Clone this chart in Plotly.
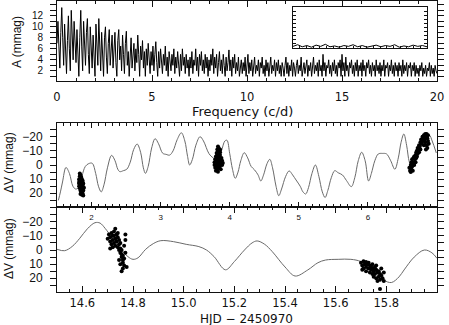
import numpy as np
import plotly.graph_objects as go

# ---------------- data ----------------
# amplitude spectrum, A (mmag), sampled evenly from 0 to 20 c/d
amp = [
    7.0, 11.0, 6.5, 2.5, 9.0, 13.5, 8.0, 3.0, 10.5, 5.5, 1.5, 7.5, 12.0, 6.0, 2.0, 13.0, 9.5, 4.0, 11.0, 7.0,
    3.5, 9.5, 5.0, 1.0, 8.0, 13.0, 6.5, 2.0, 11.0, 7.5, 3.0, 9.0, 11.5, 5.0, 1.5, 10.0, 6.0, 2.5, 8.5, 4.0,
    1.0, 10.5, 6.0, 3.0, 11.5, 7.0, 2.0, 9.0, 5.0, 1.0, 8.0, 10.0, 4.5, 1.5, 7.0, 9.5, 3.0, 6.0, 8.5, 2.5,
    5.5, 9.0, 3.5, 1.0, 7.5, 9.5, 4.0, 6.5, 2.0, 8.5, 5.0, 1.5, 7.0, 9.2, 3.0, 5.5, 1.0, 6.5, 8.0, 2.5,
    4.5, 7.0, 2.0, 6.0, 3.5, 8.5, 5.0, 1.0, 6.5, 4.0, 7.5, 2.5, 5.5, 1.0, 6.0, 3.0, 7.0, 4.5, 1.5, 5.5,
    3.0, 6.5, 2.0, 5.0, 7.3, 3.5, 1.0, 5.5, 2.5, 6.0, 4.0, 1.5, 5.0, 3.0, 6.5, 2.0, 4.5, 1.0, 5.5, 3.5,
    2.0, 5.0, 3.0, 6.0, 1.5, 4.5, 2.5, 5.5, 3.5, 1.0, 5.0, 2.0, 6.0, 3.0, 4.5, 1.5, 5.0, 2.5, 4.0, 1.0,
    4.5, 2.5, 5.5, 1.5, 4.0, 3.0, 6.0, 2.0, 4.5, 1.0, 5.0, 3.0, 5.5, 2.0, 4.0, 1.5, 5.0, 2.5, 4.5, 1.0,
    4.0, 2.0, 5.0, 3.0, 6.0, 1.5, 4.5, 2.5, 5.0, 1.0, 3.5, 5.5, 2.0, 4.0, 1.5, 5.0, 3.0, 1.0, 4.5, 2.0,
    3.5, 5.8, 2.0, 4.0, 1.0, 4.5, 2.5, 5.0, 1.5, 3.5, 2.0, 4.5, 1.0, 3.0, 4.0, 1.5, 3.5, 2.0, 4.5, 1.0,
    3.0, 5.0, 1.5, 3.5, 2.0, 4.0, 1.0, 3.0, 4.5, 1.5, 3.0, 2.0, 4.0, 1.0, 3.5, 2.5, 4.5, 1.5, 3.0, 1.0,
    4.0, 2.0, 3.5, 1.0, 3.0, 4.5, 1.5, 3.0, 2.0, 4.0, 1.0, 3.5, 2.0, 4.0, 1.5, 3.0, 1.0, 3.5, 2.5, 1.0,
    3.0, 4.5, 1.5, 3.5, 1.0, 3.0, 2.0, 4.0, 1.0, 3.5, 2.5, 1.0, 3.0, 4.0, 1.5, 3.0, 2.0, 4.5, 1.0, 2.5,
    3.5, 1.5, 3.0, 4.0, 1.0, 3.0, 2.0, 3.5, 1.0, 3.0, 4.5, 1.5, 3.0, 2.0, 3.5, 1.0, 4.0, 2.0, 3.0, 1.0,
    5.0, 2.0, 3.5, 1.0, 3.0, 2.5, 4.0, 1.5, 3.0, 1.0, 3.5, 2.0, 4.0, 1.5, 3.0, 1.0, 3.5, 2.5, 4.0, 1.0,
    5.0, 2.0, 3.5, 1.0, 4.5, 2.0, 3.0, 1.0, 3.5, 2.5, 4.0, 1.5, 3.0, 1.0, 3.5, 2.0, 4.0, 1.0, 3.0, 2.0,
    3.5, 1.0, 4.0, 2.0, 3.0, 1.0, 3.5, 2.5, 4.0, 1.5, 3.0, 1.0, 3.5, 2.0, 3.0, 1.0, 4.0, 2.0, 3.0, 1.5,
    3.5, 1.0, 3.0, 2.0, 4.0, 1.0, 3.0, 2.5, 3.5, 1.0, 3.0, 2.0, 4.0, 1.5, 3.0, 1.0, 3.5, 2.0, 3.0, 1.0,
    3.5, 2.0, 3.0, 1.0, 4.0, 1.5, 3.0, 2.0, 3.5, 1.0, 3.0, 2.5, 3.5, 1.0, 3.0, 2.0, 3.5, 1.0, 3.0, 1.5,
    2.5, 1.0, 3.0, 2.0, 3.5, 1.0, 2.5, 1.5, 3.0, 1.0, 2.5, 2.0, 3.5, 1.0, 3.0, 1.5, 2.5, 1.0, 3.0, 2.0, 1.5,
]
freq = np.linspace(0.0, 20.0, len(amp))

# inset (spectral window) trace – near zero everywhere
inset_vals = [0.4, 0.8, 0.3, 0.6, 0.2, 0.7, 0.4, 0.9, 0.3, 0.5, 0.2, 0.6, 0.4, 0.8, 0.3,
              0.6, 0.2, 0.5, 0.7, 0.3, 0.6, 0.4, 0.8, 0.2, 0.5, 0.3, 0.7, 0.4, 0.6, 0.3]
inset_x = np.linspace(0.0, 1.0, len(inset_vals))

# middle panel: multi-periodic fit and observations
fit_t = [1.52, 1.55, 1.58, 1.63, 1.68, 1.73, 1.77, 1.81, 1.86, 1.91, 1.96, 2.01, 2.06, 2.10, 2.14,
         2.18, 2.23, 2.29, 2.34, 2.38, 2.41, 2.46, 2.51, 2.56, 2.61, 2.66, 2.71, 2.75, 2.78, 2.82,
         2.87, 2.92, 2.97, 3.03, 3.08, 3.13, 3.18, 3.24, 3.30, 3.35, 3.39, 3.42, 3.46, 3.51, 3.57,
         3.62, 3.70, 3.76, 3.82, 3.88, 3.93, 3.96, 4.00, 4.04, 4.08, 4.12, 4.16, 4.21, 4.26, 4.31,
         4.36, 4.41, 4.45, 4.49, 4.54, 4.58, 4.62, 4.67, 4.71, 4.75, 4.81, 4.86, 4.91, 4.96, 5.02,
         5.06, 5.10, 5.14, 5.19, 5.24, 5.29, 5.34, 5.38, 5.42, 5.47, 5.52, 5.57, 5.63, 5.69, 5.76,
         5.81, 5.86, 5.91, 5.96, 6.01, 6.05, 6.10, 6.15, 6.21, 6.27, 6.33, 6.39, 6.44, 6.48, 6.52,
         6.56, 6.60, 6.64, 6.70, 6.77, 6.84, 6.89, 6.93, 6.99]
fit_v = [25.0, 19.0, 12.0, 1.7, 6.0, 15.0, 17.0, 16.0, 8.0, 1.0, -1.0, -1.2, 6.0, 15.0, 19.0,
         14.0, 2.0, -6.8, -3.0, 3.0, 4.7, 4.0, 3.0, -2.0, -11.0, -14.8, -9.0, 2.0, 5.9, 1.0,
         -12.0, -18.6, -15.0, -8.3, -7.5, -7.0, -10.0, -18.0, -22.8, -17.0, -6.0, 0.0, -4.0, -14.0, -20.0,
         -17.0, -8.0, -5.0, -3.0, -10.0, -17.0, -17.5, -8.0, 3.0, 9.4, 5.0, -3.0, -8.7, -5.0, 1.0,
         3.5, 7.0, 11.3, 7.0, -1.0, -4.0, 2.0, 15.0, 21.7, 17.0, 8.0, 4.2, 7.0, 10.6, 15.0,
         19.0, 20.5, 16.0, 6.0, 0.0, 8.0, 19.0, 23.0, 18.0, 9.0, 4.0, 5.5, 7.0, 11.0, 15.3,
         9.0, -3.0, -9.0, -3.0, 11.3, 6.0, -3.0, -7.8, -8.2, -7.8, -3.0, 3.0, -5.0, -16.0, -21.9,
         -14.0, -2.0, 2.0, -4.0, -14.0, -19.0, -21.0, -17.0, -8.5]

obs_mid_t = [1.83, 1.84, 1.83, 1.85, 1.84, 1.82, 1.86, 1.83, 1.85, 1.87, 1.82, 1.84, 1.86, 1.88, 1.83,
             1.85, 1.87, 1.82, 1.84, 1.86, 1.88, 1.83, 1.85, 1.87, 1.84, 1.86, 1.88, 1.85, 1.87, 1.86,
             1.88, 1.84, 1.82, 1.89, 1.85, 1.87,
             3.83, 3.84, 3.82, 3.85, 3.83, 3.86, 3.84, 3.82, 3.86, 3.80, 3.83, 3.85, 3.88, 3.79, 3.81,
             3.84, 3.87, 3.89, 3.78, 3.80, 3.82, 3.85, 3.88, 3.90, 3.78, 3.81, 3.84, 3.86, 3.89, 3.79,
             3.82, 3.85, 3.87, 3.80, 3.83, 3.86, 3.81,
             6.60, 6.61, 6.62, 6.62, 6.63, 6.63, 6.64, 6.64, 6.65, 6.65, 6.66, 6.66, 6.67, 6.67, 6.68,
             6.69, 6.69, 6.70, 6.70, 6.71, 6.71, 6.72, 6.72, 6.73, 6.74, 6.74, 6.75, 6.76, 6.76, 6.77,
             6.78, 6.79, 6.79, 6.80, 6.81, 6.82, 6.83, 6.83, 6.84, 6.85, 6.85, 6.86, 6.86, 6.87, 6.87,
             6.88, 6.84, 6.81]
obs_mid_v = [6.0, 7.0, 8.0, 8.5, 9.5, 10.0, 10.0, 11.0, 11.5, 11.0, 12.0, 12.5, 12.5, 13.0, 13.5,
             14.0, 14.0, 15.0, 15.0, 15.5, 15.5, 16.5, 17.0, 17.0, 18.0, 18.5, 18.0, 19.5, 20.0, 21.0,
             21.5, 20.5, 13.0, 16.0, 9.0, 12.0,
             -13.0, -12.0, -11.0, -10.5, -9.5, -9.0, -8.0, -7.5, -7.0, -6.0, -6.0, -5.5, -5.0, -4.0, -4.5,
             -3.5, -3.5, -3.0, -2.0, -2.5, -1.5, -2.0, -1.0, -1.5, 0.0, 0.5, 0.0, 0.5, 0.0, 2.0,
             2.5, 2.0, 3.0, 4.0, 4.7, -11.0, -8.5,
             2.0, 4.0, 0.0, 5.0, -2.0, 3.0, -4.0, 1.0, -1.0, 4.0, -5.0, -2.0, -6.0, 0.0, -4.0,
             -7.0, -2.0, -9.0, -5.0, -10.0, -6.0, -12.0, -8.0, -11.0, -14.0, -9.0, -13.0, -16.0, -11.0, -18.0,
             -15.0, -20.0, -17.0, -19.0, -21.0, -18.0, -22.0, -16.0, -20.0, -22.0, -14.0, -19.0, -12.0, -17.0, -21.0,
             -15.0, -11.0, -14.0]

mid_ticks = [2, 3, 4, 5, 6]

# bottom panel: zoom on HJD 2450984.5 - 2450986.0
fit2_t = [14.50, 14.53, 14.56, 14.59, 14.62, 14.65, 14.67, 14.69, 14.72, 14.75, 14.78, 14.80, 14.82,
          14.85, 14.88, 14.91, 14.96, 15.01, 15.06, 15.09, 15.12, 15.165, 15.20, 15.24, 15.27, 15.29,
          15.32, 15.35, 15.40, 15.44, 15.49, 15.53, 15.56, 15.61, 15.66, 15.70, 15.75, 15.79, 15.82,
          15.85, 15.87, 15.91, 15.95, 15.98, 16.00]
fit2_v = [-0.5, 0.5, -2.5, -8.3, -15.0, -19.3, -19.0, -15.3, -8.0, -1.0, 4.7, 6.6, 5.5,
          -0.5, -4.5, -6.6, -5.9, -4.0, -2.4, 0.0, 4.7, 14.0, 8.2, 0.0, -5.0, -6.4,
          -4.0, 1.2, 12.0, 18.4, 14.1, 9.0, 7.1, 6.6, 6.6, 8.2, 14.0, 21.2, 23.0,
          19.0, 14.1, 5.0, 0.0, 2.0, 5.9]

obs_bot_t = [14.70, 14.705, 14.71, 14.71, 14.715, 14.715, 14.72, 14.72, 14.725, 14.725, 14.73, 14.73,
             14.73, 14.735, 14.735, 14.74, 14.74, 14.74, 14.745, 14.745, 14.745, 14.75, 14.75, 14.75,
             14.755, 14.755, 14.755, 14.76, 14.76, 14.76, 14.765, 14.765, 14.76, 14.755, 14.77, 14.77,
             14.775, 14.77, 14.765, 14.71, 14.72, 14.725, 14.75, 14.745,
             15.70, 15.705, 15.71, 15.71, 15.715, 15.72, 15.72, 15.72, 15.725, 15.73, 15.73, 15.735,
             15.735, 15.74, 15.74, 15.745, 15.745, 15.75, 15.75, 15.75, 15.755, 15.755, 15.76, 15.76,
             15.765, 15.765, 15.77, 15.77, 15.775, 15.775, 15.78, 15.78, 15.785, 15.79, 15.79, 15.775,
             15.76, 15.705]
obs_bot_v = [-8.0, -11.0, -6.0, -9.0, -12.0, -4.0, -7.0, -10.0, -13.0, -5.0, -15.0, -8.0,
             -3.0, -11.0, -6.0, -9.0, -2.0, -12.0, -4.0, 0.0, -7.0, -1.0, 2.0, -5.0,
             3.0, 5.0, 0.0, 7.0, 4.0, 9.0, 6.0, 11.0, 13.0, 15.0, -11.0, -7.0,
             12.0, 2.0, -3.0, -1.0, -2.0, -10.0, 10.0, 7.0,
             9.0, 11.0, 8.0, 13.0, 10.0, 8.5, 12.0, 15.0, 10.0, 9.0, 13.0, 11.0,
             16.0, 12.0, 14.0, 10.0, 17.0, 13.0, 15.0, 19.0, 12.0, 17.0, 14.0, 20.0,
             16.0, 22.0, 15.0, 19.0, 17.0, 21.0, 13.0, 18.0, 20.0, 16.0, 22.0, 27.6,
             11.0, 14.0]

dv_ticks = [-20, -10, 0, 10, 20]
dv_ticktext = ["\u221220", "\u221210", "0", "10", "20"]
hjd_ticks = [14.6, 14.8, 15.0, 15.2, 15.4, 15.6, 15.8, 16.0]
hjd_ticktext = ["14.6", "14.8", "15.0", "15.2", "15.4", "15.6", "15.8", "16.0"]
freq_ticks = [0, 5, 10, 15, 20]
amp_ticks = [2, 4, 6, 8, 10, 12, 14]

# ---------------- figure ----------------
FONT = "Liberation Sans, Arial, Helvetica, sans-serif"
WIDE = "DejaVu Sans, Verdana, sans-serif"
INK = "#111111"

fig = go.Figure()

fig.add_trace(go.Scatter(x=freq, y=amp, mode="lines", line=dict(color="#000000", width=1),
                         xaxis="x", yaxis="y", showlegend=False, hoverinfo="skip"))
fig.add_trace(go.Scatter(x=inset_x, y=inset_vals, mode="lines", line=dict(color="#000000", width=1),
                         xaxis="x4", yaxis="y4", showlegend=False, hoverinfo="skip"))
fig.add_trace(go.Scatter(x=fit_t, y=fit_v, mode="lines", line=dict(color="#6a6a6a", width=1, shape="spline", smoothing=1.0),
                         xaxis="x2", yaxis="y2", showlegend=False, hoverinfo="skip"))
fig.add_trace(go.Scatter(x=obs_mid_t, y=obs_mid_v, mode="markers", marker=dict(color="#000000", size=4),
                         xaxis="x2", yaxis="y2", showlegend=False, hoverinfo="skip"))
fig.add_trace(go.Scatter(x=fit2_t, y=fit2_v, mode="lines", line=dict(color="#6a6a6a", width=1, shape="spline", smoothing=1.0),
                         xaxis="x3", yaxis="y3", showlegend=False, hoverinfo="skip"))
fig.add_trace(go.Scatter(x=obs_bot_t, y=obs_bot_v, mode="markers", marker=dict(color="#000000", size=4),
                         xaxis="x3", yaxis="y3", showlegend=False, hoverinfo="skip"))

W, H = 449, 325
L, R, T, B = 57, 12, 1, 33
ph = H - T - B
pw = W - L - R


def ydom(top_px, bot_px):
    return [(H - B - bot_px) / ph, (H - B - top_px) / ph]


def xdom(l_px, r_px):
    return [(l_px - L) / pw, (r_px - L) / pw]


common_x = dict(showline=True, linecolor=INK, linewidth=1, mirror="ticks", ticks="inside",
                tickcolor=INK, showgrid=False, zeroline=False,
                tickfont=dict(family=WIDE, size=11.5, color=INK))
common_y = dict(showline=True, linecolor=INK, linewidth=1, mirror="ticks", ticks="outside",
                tickcolor=INK, showgrid=False, zeroline=False, ticklen=6,
                tickfont=dict(family=FONT, size=12, color=INK), ticklabelstandoff=5)

fig.update_layout(
    width=W, height=H,
    margin=dict(l=L, r=R, t=T, b=B),
    paper_bgcolor="white", plot_bgcolor="white",
    font=dict(family=FONT, color=INK),
    xaxis=dict(common_x, domain=[0, 1], anchor="y", range=[0, 20], tickvals=freq_ticks,
               ticklen=6, ticklabelstandoff=5,
               minor=dict(dtick=1, tick0=0, ticklen=3, ticks="inside", tickcolor=INK)),
    yaxis=dict(common_y, domain=ydom(1, 81), anchor="x", range=[0.15, 14.7],
               tickvals=amp_ticks, tickfont=dict(family=FONT, size=10, color=INK),
               minor=dict(dtick=1, tick0=0, ticklen=6, ticks="outside", tickcolor=INK)),
    xaxis2=dict(common_x, domain=[0, 1], anchor="y2", range=[1.5, 7.0], tickvals=mid_ticks,
                ticklen=5, tickfont=dict(family=FONT, size=8, color=INK), ticklabelstandoff=2,
                minor=dict(dtick=0.1, tick0=0, ticklen=3, ticks="inside", tickcolor=INK)),
    yaxis2=dict(common_y, domain=ydom(123, 207), anchor="x2", range=[29.7, -29.7],
                tickvals=dv_ticks, ticktext=dv_ticktext,
                minor=dict(dtick=5, tick0=0, ticklen=6, ticks="outside", tickcolor=INK)),
    xaxis3=dict(common_x, domain=[0, 1], anchor="y3", range=[14.5, 16.0],
                tickvals=hjd_ticks, ticktext=hjd_ticktext,
                ticklen=6, ticklabelstandoff=0,
                minor=dict(dtick=0.05, tick0=14.5, ticklen=3, ticks="inside", tickcolor=INK)),
    yaxis3=dict(common_y, domain=ydom(207, 292), anchor="x3", range=[29.7, -30.4],
                tickvals=dv_ticks, ticktext=dv_ticktext,
                minor=dict(dtick=5, tick0=0, ticklen=6, ticks="outside", tickcolor=INK)),
    xaxis4=dict(domain=xdom(293, 427), anchor="y4", range=[0, 1], showline=True, linecolor=INK,
                linewidth=1, mirror=True, ticks="inside", ticklen=2, dtick=0.05, tickcolor=INK,
                showticklabels=False, showgrid=False, zeroline=False),
    yaxis4=dict(domain=ydom(7, 48), anchor="x4", range=[0, 10], showline=True, linecolor=INK,
                linewidth=1, mirror="ticks", ticks="inside", ticklen=3, dtick=1, tickcolor=INK,
                showticklabels=False, showgrid=False, zeroline=False),
)

ann_font = dict(family=FONT, size=12, color=INK)


def ypaper(px):
    return (H - B - px) / ph


def xpaper(px):
    return (px - L) / pw


fig.add_annotation(text="A (mmag)", textangle=-90, xref="paper", yref="paper",
                   x=xpaper(17), y=ypaper(42), xanchor="center", yanchor="middle",
                   showarrow=False, font=ann_font)
fig.add_annotation(text="\u0394V (mmag)", textangle=-90, xref="paper", yref="paper",
                   x=xpaper(9), y=ypaper(163), xanchor="center", yanchor="middle",
                   showarrow=False, font=ann_font)
fig.add_annotation(text="\u0394V (mmag)", textangle=-90, xref="paper", yref="paper",
                   x=xpaper(9), y=ypaper(249), xanchor="center", yanchor="middle",
                   showarrow=False, font=ann_font)
fig.add_annotation(text="Frequency (c/d)", xref="paper", yref="paper",
                   x=xpaper(242), y=ypaper(111), xanchor="center", yanchor="middle",
                   showarrow=False, font=dict(family=WIDE, size=13, color=INK))
fig.add_annotation(text="HJD \u2212 2450970", xref="paper", yref="paper",
                   x=xpaper(246), y=ypaper(319), xanchor="center", yanchor="middle",
                   showarrow=False, font=dict(family=WIDE, size=12, color=INK))

fig.write_html("out.html", config={"displayModeBar": False},
               post_script="document.body.style.margin='0';document.body.style.padding='0';")
